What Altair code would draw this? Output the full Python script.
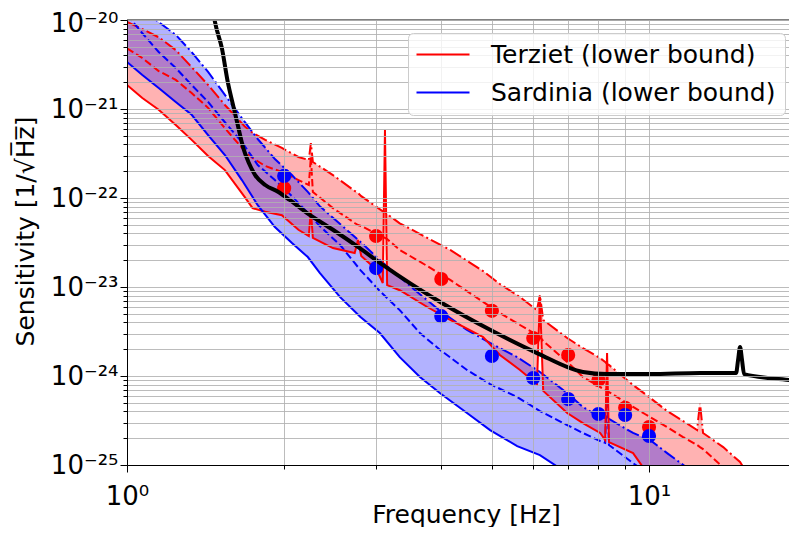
import altair as alt
import pandas as pd

# ---------------- data ----------------
T_NAME = "Terziet (lower bound)"
S_NAME = "Sardinia (lower bound)"

T_FREQ = [1.00, 1.07, 1.15, 1.24, 1.33, 1.43, 1.54, 1.68, 1.74, 1.84, 1.98, 2.13, 2.23, 2.25, 2.27,
          2.48, 2.73, 2.77, 2.81, 3.01, 3.09, 3.12, 3.15, 3.33, 3.76, 4.16, 4.81, 5.18, 5.66, 6.10,
          6.18, 6.27, 6.97, 7.47, 8.06, 8.24, 8.31, 8.38, 9.32, 9.82, 10.83, 11.62, 12.36, 12.52,
          12.69, 13.87, 14.94, 15.27]
T_UPPER = [9.5e-21, 7.9e-21, 6.4e-21, 4.6e-21, 2.96e-21, 1.86e-21, 1.11e-21, 6.4e-22, 5.4e-22, 4.5e-22,
           3.65e-22, 2.89e-22, 2.67e-22, 4.15e-22, 2.54e-22, 1.81e-22, 1.20e-22, 1.14e-22, 1.05e-22,
           7.9e-23, 7.1e-23, 6.97e-23, 6.6e-23, 5.2e-23, 3.56e-23, 2.61e-23, 1.51e-23, 1.08e-23, 7.7e-24,
           5.5e-24, 8.1e-24, 4.26e-24, 2.67e-24, 2.06e-24, 1.59e-24, 1.44e-24, 1.36e-24, 1.33e-24,
           7.9e-25, 6.3e-25, 4.04e-25, 3.12e-25, 2.47e-25, 4.97e-25, 2.29e-25, 1.59e-25, 1.08e-25, 8.8e-26]
T_MEDIAN = [4.8e-21, 3.74e-21, 2.67e-21, 2.12e-21, 1.51e-21, 1.03e-21, 6.1e-22, 3.37e-22, 2.81e-22,
            2.29e-22, 1.96e-22, 1.59e-22, 1.40e-22, 2.89e-22, 1.17e-22, 7.7e-23, 5.24e-23, 4.97e-23,
            4.84e-23, 3.94e-23, 3.65e-23, 3.56e-23, 3.46e-23, 2.61e-23, 1.72e-23, 1.20e-23, 6.8e-24,
            5.1e-24, 3.74e-24, 2.89e-24, 2.74e-24, 2.47e-24, 1.44e-24, 9.75e-25, 7.5e-25, 6.97e-25,
            6.8e-25, 6.6e-25, 4.49e-25, 3.74e-25, 2.67e-25, 2.06e-25, 1.68e-25, 1.59e-25, 1.51e-25,
            9.4e-26, 6.8e-26, 6.0e-26]
T_LOWER = [1.86e-21, 1.33e-21, 9.8e-22, 6.6e-22, 4.5e-22, 2.96e-22, 2.06e-22, 1.03e-22, 7.7e-23, 7.0e-23,
           6.4e-23, 4.4e-23, 3.74e-23, 7.3e-23, 3.56e-23, 2.74e-23, 2.41e-23, 3.37e-23, 2.23e-23,
           1.55e-23, 1.11e-23, 5.8e-22, 1.05e-23, 9.2e-24, 5.96e-24, 4.26e-24, 2.74e-24, 1.72e-24,
           1.17e-24, 8.1e-25, 7.7e-24, 6.8e-25, 3.84e-25, 2.96e-25, 2.29e-25, 1.91e-25, 1.81e-24,
           1.81e-25, 1.36e-25, 8.8e-26, 6.0e-26, 4.6e-26, 3.56e-26, 3.37e-26, 3.21e-26, 2.41e-26,
           1.86e-26, 1.63e-26]

S_FREQ = [1.00, 1.07, 1.15, 1.24, 1.33, 1.43, 1.54, 1.66, 1.78, 1.92, 2.07, 2.22, 2.34, 2.56, 2.80,
          3.05, 3.33, 3.64, 3.98, 4.48, 4.96, 5.59, 6.18, 6.97, 7.47, 8.06, 8.24, 8.31, 8.38, 9.32,
          10.04, 10.83, 11.98]
S_UPPER = [1.91e-20, 1.36e-20, 9.5e-21, 6.8e-21, 4.37e-21, 2.61e-21, 1.44e-21, 7.9e-22, 4.6e-22, 2.74e-22,
           1.81e-22, 1.17e-22, 8.1e-23, 5.1e-23, 3.21e-23, 2.01e-23, 1.29e-23, 8.3e-24, 5.4e-24, 3.29e-24,
           2.35e-24, 1.63e-24, 1.11e-24, 6.4e-25, 4.49e-25, 3.46e-25, 3.37e-25, 3.37e-25, 3.29e-25,
           2.29e-25, 1.91e-25, 1.36e-25, 8.8e-26]
S_MEDIAN = [1.14e-20, 7.1e-21, 4.37e-21, 2.89e-21, 1.86e-21, 1.20e-21, 7.1e-22, 4.26e-22, 2.35e-22,
            1.59e-22, 1.05e-22, 6.8e-23, 4.84e-23, 2.96e-23, 1.55e-23, 9.0e-24, 5.5e-24, 3.04e-24,
            1.96e-24, 1.17e-24, 8.1e-25, 5.8e-25, 4.04e-25, 2.81e-25, 2.29e-25, 1.86e-25, 1.77e-25,
            6.97e-25, 1.68e-25, 1.05e-25, 7.7e-26, 6.0e-26, 4.6e-26]
S_LOWER = [3.37e-21, 2.41e-21, 1.72e-21, 1.20e-21, 8.6e-22, 5.1e-22, 3.04e-22, 1.59e-22, 8.3e-23, 4.72e-23,
           3.12e-23, 2.17e-23, 1.44e-23, 7.7e-24, 4.6e-24, 3.04e-24, 1.63e-24, 9.75e-25, 6.4e-25, 3.84e-25,
           2.47e-25, 1.63e-25, 1.29e-25, 8.1e-26, 6.8e-26, 5.5e-26, 5.2e-26, 5.1e-26, 5.0e-26, 3.56e-26,
           2.96e-26, 2.41e-26, 1.86e-26]

ET_FREQ = [1.455, 1.474, 1.52, 1.56, 1.60, 1.63, 1.67, 1.71, 1.76, 1.84, 1.95, 2.05, 2.21, 2.48, 2.80,
           3.09, 4.01, 4.96, 6.10, 7.47, 8.31, 10.04, 12.52, 14.68, 14.81, 14.94, 15.07, 15.21, 18.62, 20.0]
ET_SENS = [1.48e-20, 9.5e-21, 4.8e-21, 2.0e-21, 1.05e-21, 6.6e-22, 3.65e-22, 2.5e-22, 1.81e-22, 1.4e-22,
           1.17e-22, 9.5e-23, 6.8e-23, 4.4e-23, 2.7e-23, 1.77e-23, 6.6e-24, 3.3e-24, 1.81e-24, 1.11e-24,
           1.05e-24, 1.05e-24, 1.08e-24, 1.08e-24, 1.51e-24, 2.12e-24, 1.51e-24, 1.05e-24, 9.0e-25, 8.5e-25]

DOT_FREQ = [2, 3, 4, 5, 6, 7, 8, 9, 10]
T_DOTS = [1.29e-22, 3.74e-23, 1.23e-23, 5.4e-24, 2.67e-24, 1.72e-24, 9.0e-25, 4.4e-25, 2.67e-25]
S_DOTS = [1.77e-22, 1.63e-23, 4.7e-24, 1.68e-24, 9.5e-25, 5.5e-25, 3.74e-25, 3.65e-25, 2.12e-25]

X_TICKS = [1, 2, 3, 4, 5, 6, 7, 8, 9, 10]
X_MAX = 18.54
Y_EXPONENTS = [-25, -24, -23, -22, -21, -20]
Y_TICKS = [float(f"{m}e{e}") for e in Y_EXPONENTS[:-1] for m in range(1, 10)] + [1e-20]

# ---------------- tables ----------------
terziet = pd.DataFrame({"f": T_FREQ, "up": T_UPPER, "med": T_MEDIAN, "lo": T_LOWER, "site": T_NAME})
sardinia = pd.DataFrame({"f": S_FREQ, "up": S_UPPER, "med": S_MEDIAN, "lo": S_LOWER, "site": S_NAME})
lower = pd.concat([terziet, sardinia], ignore_index=True)
et = pd.DataFrame({"f": ET_FREQ, "s": ET_SENS})
dots = pd.DataFrame({"f": DOT_FREQ, "t": T_DOTS, "s": S_DOTS})

RED = "#ff0000"
BLUE = "#0000ff"
FONT = "DejaVu Sans"

MAJOR = "abs(log(datum.value)/LN10 - round(log(datum.value)/LN10)) < 0.01"
SUP = str.maketrans("-0123456789", "⁻⁰¹²³⁴⁵⁶⁷⁸⁹")


def label_expr(exps):
    expr = "''"
    for e in exps:
        expr = f"round(log(datum.value)/LN10) == {e} ? '10{str(e).translate(SUP)}' : ({expr})"
    return f"({MAJOR}) ? ({expr}) : ''"


axis_common = dict(
    grid=True, gridColor="#b0b0b0", gridWidth=1, gridOpacity=0.85,
    domainColor="black", domainWidth=1, tickColor="black", tickWidth=1,
    tickSize={"condition": {"test": MAJOR, "value": 7}, "value": 4},
    labelFont=FONT, labelFontSize=26, labelColor="black", labelOverlap=False, labelFlush=False,
    titleFont=FONT, titleFontSize=25, titleFontWeight="normal", titleColor="black", zindex=1,
)

xaxis = alt.Axis(values=X_TICKS, labelExpr=label_expr([0, 1]), title="Frequency [Hz]",
                 titleX=339, titleY=57, titleBaseline="alphabetic", titleAlign="center",
                 labelBaseline="alphabetic", labelPadding=32, **axis_common)
yaxis = alt.Axis(values=Y_TICKS, labelExpr=label_expr(Y_EXPONENTS), title="Sensitivity [1/√H̅z̅]",
                 titleX=-94, titleY=211, titleAngle=270, titleBaseline="alphabetic",
                 titleAlign="center", labelPadding=2,
                 labelOffset={"condition": {"test": "datum.value > 5e-21", "value": 3}, "value": 0},
                 **axis_common)

xscale = alt.Scale(type="log", domain=[1, X_MAX], nice=False)
yscale = alt.Scale(type="log", domain=[1e-25, 1e-20], nice=False)


def X():
    return alt.X("f:Q", scale=xscale, axis=xaxis)


def Y(field):
    return alt.Y(f"{field}:Q", scale=yscale, axis=yaxis)


DASH = [7.5, 3.3]
DASHDOT = [13, 3.3, 2, 3.3]

red_area = alt.Chart(terziet).mark_area(color=RED, opacity=0.3, clip=True).encode(
    x=X(), y=Y("up"), y2="lo:Q")
blue_area = alt.Chart(sardinia).mark_area(color=BLUE, opacity=0.3, clip=True).encode(
    x=X(), y=Y("up"), y2="lo:Q")

red_up = alt.Chart(terziet).mark_line(color=RED, strokeWidth=2, strokeDash=DASHDOT, clip=True).encode(
    x=X(), y=Y("up"))
red_med = alt.Chart(terziet).mark_line(color=RED, strokeWidth=2, strokeDash=DASH, clip=True).encode(
    x=X(), y=Y("med"))
blue_up = alt.Chart(sardinia).mark_line(color=BLUE, strokeWidth=2, strokeDash=DASHDOT, clip=True).encode(
    x=X(), y=Y("up"))
blue_med = alt.Chart(sardinia).mark_line(color=BLUE, strokeWidth=2, strokeDash=DASH, clip=True).encode(
    x=X(), y=Y("med"))

legend = alt.Legend(
    title=None, orient="none", legendX=281, legendY=13,
    symbolType="M-2.6,0H8", symbolSize=100, symbolStrokeWidth=2,
    labelFont=FONT, labelFontSize=25, labelColor="black", labelOffset=49, labelLimit=600,
    labelExpr="datum.label + '\u00a0\u00a0'",
    padding=9, rowPadding=12, cornerRadius=5, strokeColor="#cccccc",
    fillColor="rgba(255,255,255,0.8)", zindex=2,
)
lower_lines = alt.Chart(lower).mark_line(strokeWidth=2, clip=True).encode(
    x=X(), y=Y("lo"),
    color=alt.Color("site:N", scale=alt.Scale(domain=[T_NAME, S_NAME], range=[RED, BLUE]), legend=legend),
)

red_dots = alt.Chart(dots).mark_circle(color=RED, size=200, opacity=1, clip=True).encode(x=X(), y=Y("t"))
blue_dots = alt.Chart(dots).mark_circle(color=BLUE, size=200, opacity=1, clip=True).encode(x=X(), y=Y("s"))

et_line = alt.Chart(et).mark_line(color="black", strokeWidth=4, interpolate="monotone", clip=True).encode(
    x=X(), y=Y("s"))

top_spine = alt.Chart(pd.DataFrame({"k": [0]})).mark_rule(color="black", strokeWidth=1).encode(
    y=alt.Y(datum=1e-20, scale=yscale, axis=yaxis))

chart = alt.layer(
    red_area, blue_area, red_up, red_med, blue_up, blue_med, lower_lines,
    red_dots, blue_dots, et_line, top_spine,
).properties(
    width=662, height=445,
    padding={"left": 119, "top": 12, "right": 0, "bottom": 62},
    autosize=alt.AutoSizeParams(type="none"),
    background="white",
).configure_view(stroke=None)

chart.save("out.html", embed_options={"renderer": "svg", "actions": False})
